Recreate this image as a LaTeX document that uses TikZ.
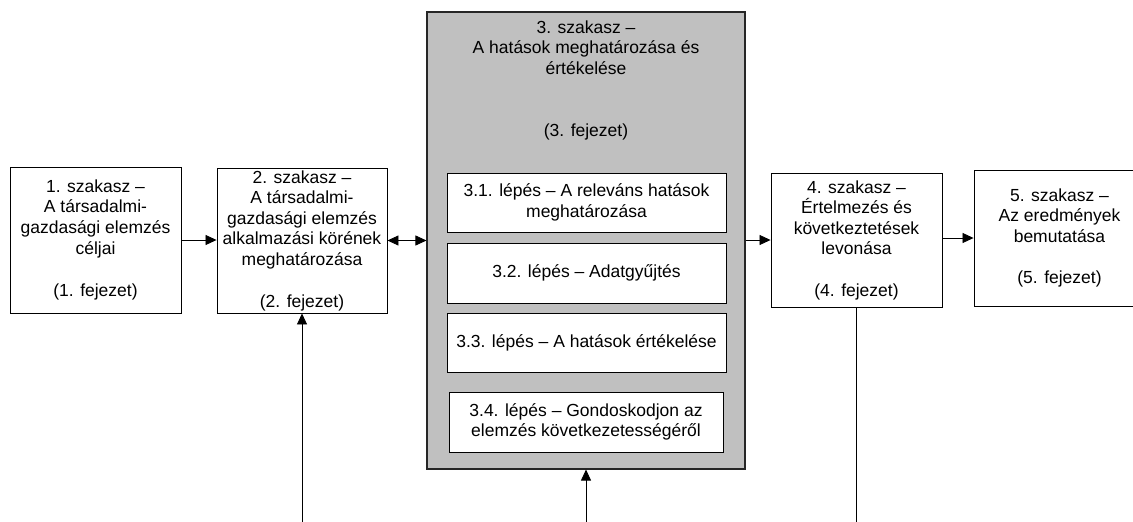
\documentclass[tikz,border=0pt]{standalone}
\usepackage{fontspec}
\setmainfont{Liberation Sans}
\usetikzlibrary{arrows.meta,shadows}
\definecolor{panelgray}{HTML}{C0C0C0}
\begin{document}
\begin{tikzpicture}[x=1pt,y=-1pt,
  every node/.style={font=\fontsize{17.5}{20.6}\selectfont, inner sep=0pt, align=center},
  box/.style={draw=black, line width=0.9pt, fill=white,
    drop shadow={shadow xshift=1.3pt, shadow yshift=-1.3pt, fill=black!55, opacity=1}},
  panel/.style={draw=black!85, line width=1.1pt, fill=panelgray},
  link/.style={draw=black, line width=0.8pt},
  tip/.tip={Triangle[length=11pt,width=10pt]},
  arr/.style={link, -tip},
  biarr/.style={link, tip-tip}]
\useasboundingbox (0,0) rectangle (1133,522);
\clip (0,0) rectangle (1133,522);

% stage 1 and 2
\node[box, minimum width=171pt, minimum height=146pt] (b1) at (95.5,240)
  {1. szakasz –\\A társadalmi-\\gazdasági elemzés\\céljai\\[22pt](1. fejezet)};
\node[box, minimum width=170pt, minimum height=145pt] (b2) at (302,240.5)
  {2. szakasz –\\A társadalmi-\\gazdasági elemzés\\alkalmazási körének\\meghatározása\\[21pt](2. fejezet)};

% stage 3 panel with its steps
\node[panel, minimum width=318pt, minimum height=457pt] (g) at (586,240.5) {};
\node (gt) at (586,80)
  {3. szakasz –\\A hatások meghatározása és\\értékelése\\[41.2pt](3. fejezet)};
\node[box, minimum width=279pt, minimum height=59pt] (s1) at (586.5,202.5)
  {3.1. lépés – A releváns hatások\\meghatározása};
\node[box, minimum width=279pt, minimum height=60pt] (s2) at (586.5,273)
  {3.2. lépés – Adatgyűjtés};
\node[box, minimum width=279pt, minimum height=59pt] (s3) at (586.5,342.5)
  {3.3. lépés – A hatások értékelése};
\node[box, minimum width=274pt, minimum height=60pt] (s4) at (586,422)
  {3.4. lépés – Gondoskodjon az\\elemzés következetességéről};

% stage 4 and 5
\node[box, minimum width=171pt, minimum height=134pt] (b4) at (856.5,240)
  {4. szakasz –\\Értelmezés és\\következtetések\\levonása\\[20.6pt](4. fejezet)};
\node[box, minimum width=171pt, minimum height=136pt] (b5) at (1059.5,238)
  {5. szakasz –\\Az eredmények\\bemutatása\\[20.6pt](5. fejezet)};

% connectors
\coordinate (bot) at (0,522);
\draw[arr] (b1.east) -- (b1.east -| b2.west);
\draw[biarr] (b2.east) -- (b2.east -| g.west);
\draw[arr] (g.east |- b4.west) -- (b4.west);
\draw[arr] (b4.east |- b5.west) -- (b5.west);
\draw[arr] (b2.south |- bot) -- (b2.south);
\draw[arr] (g.south |- bot) -- (g.south);
\draw[link] (b4.south) -- (b4.south |- bot);
\end{tikzpicture}
\end{document}
